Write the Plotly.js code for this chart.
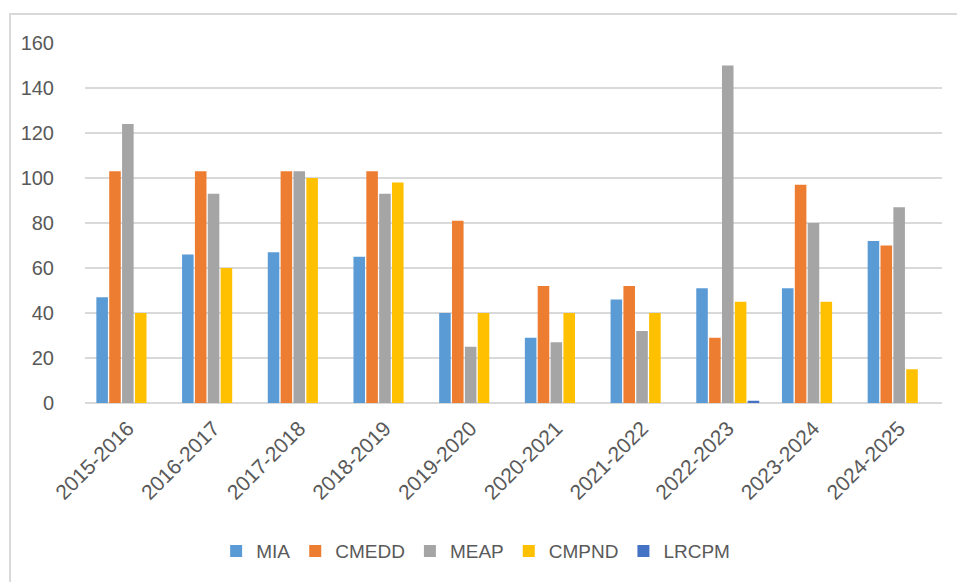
<!DOCTYPE html>
<html>
<head>
<meta charset="utf-8">
<script src="https://cdn.plot.ly/plotly-3.0.1.min.js"></script>
<style>
  html, body { margin: 0; padding: 0; background: #fff; }
  #wrap { position: relative; width: 957px; height: 582px; }
  #chart { width: 957px; height: 582px; }
  #frame { position: absolute; left: 9px; top: 13px; right: 0; bottom: 0;
           border-left: 2px solid #d9d9d9; border-top: 2px solid #d9d9d9;
           pointer-events: none; }
</style>
</head>
<body>
<div id="wrap">
  <div id="chart"></div>
  <div id="frame"></div>
</div>
<script>
const categories = ["2015-2016","2016-2017","2017-2018","2018-2019","2019-2020",
                    "2020-2021","2021-2022","2022-2023","2023-2024","2024-2025"];
const MIA   = [47, 66, 67, 65, 40, 29, 46, 51, 51, 72];
const CMEDD = [103, 103, 103, 103, 81, 52, 52, 29, 97, 70];
const MEAP  = [124, 93, 103, 93, 25, 27, 32, 150, 80, 87];
const CMPND = [40, 60, 100, 98, 40, 40, 40, 45, 45, 15];
const LRCPM = [0, 0, 0, 0, 0, 0, 0, 1, 0, 0];
const seriesNames = ["MIA", "CMEDD", "MEAP", "CMPND", "LRCPM"];
const seriesValues = [MIA, CMEDD, MEAP, CMPND, LRCPM];
const seriesColors = ["#5B9BD5", "#ED7D31", "#A5A5A5", "#FFC000", "#4472C4"];
const yTicks = [0, 20, 40, 60, 80, 100, 120, 140, 160];

const font = "Liberation Sans, Arial, sans-serif";
const traces = seriesNames.map((n, i) => ({
  type: "bar",
  name: n,
  x: categories,
  y: seriesValues[i],
  marker: { color: seriesColors[i], line: { width: 0 } },
  hoverinfo: "x+y+name"
}));

const layout = {
  width: 957, height: 582,
  margin: { l: 85, r: 15, t: 43, b: 179, pad: 0 },
  paper_bgcolor: "#ffffff",
  plot_bgcolor: "#ffffff",
  barmode: "group",
  bargap: 0.25,
  bargroupgap: 0.1,
  showlegend: true,
  legend: {
    orientation: "h", x: 0.497, xanchor: "center", xref: "container",
    y: 0.053, yanchor: "middle", yref: "container",
    font: { family: font, size: 19, color: "#595959" },
    itemwidth: 30, itemsizing: "constant", traceorder: "normal"
  },
  xaxis: {
    type: "category",
    tickangle: -45,
    tickfont: { family: font, size: 21, color: "#595959" },
    showgrid: false, showline: false, ticks: "", zeroline: false,
    ticklabelstandoff: 8
  },
  yaxis: {
    range: [0, 160],
    tickvals: yTicks,
    ticktext: yTicks.map(String),
    tickfont: { family: font, size: 20, color: "#595959" },
    showgrid: true, gridcolor: "#d9d9d9", gridwidth: 2,
    zeroline: true, zerolinecolor: "#d9d9d9", zerolinewidth: 2,
    showline: false, ticks: "", ticklabelstandoff: 30
  }
};

Plotly.newPlot("chart", traces, layout, { staticPlot: true, displayModeBar: false });
</script>
</body>
</html>
